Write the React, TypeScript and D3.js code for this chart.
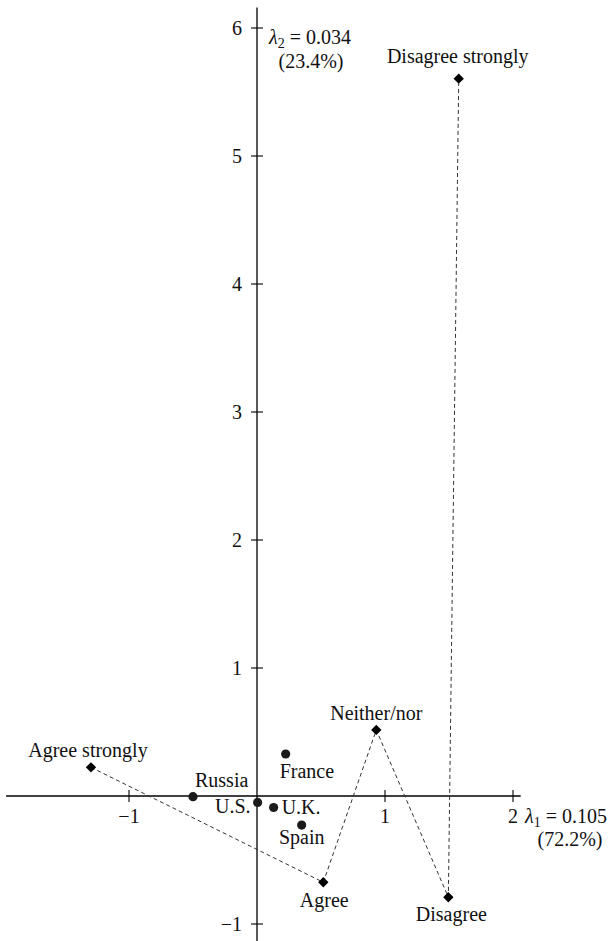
import * as d3 from "d3";

type Point = { label: string; x: number; y: number };
type Placement = { dx: number; dy: number; anchor: "start" | "middle" | "end" };

const countries: Point[] = [
  { label: "Russia", x: -0.5, y: -0.005 },
  { label: "U.S.", x: 0.005, y: -0.05 },
  { label: "U.K.", x: 0.13, y: -0.09 },
  { label: "France", x: 0.224, y: 0.328 },
  { label: "Spain", x: 0.349, y: -0.227 }
];

// response categories, in the order the dashed line joins them
const categories: Point[] = [
  { label: "Agree strongly", x: -1.297, y: 0.224 },
  { label: "Agree", x: 0.518, y: -0.674 },
  { label: "Neither/nor", x: 0.932, y: 0.516 },
  { label: "Disagree", x: 1.495, y: -0.791 },
  { label: "Disagree strongly", x: 1.576, y: 5.604 }
];

const xTicks = [-1, 1, 2];
const yTicks = [-1, 1, 2, 3, 4, 5, 6];
const xAxisExtent = [-1.96, 2.06];
const yAxisExtent = [-1.14, 6.16];
const lambda1 = { value: "0.105", share: "(72.2%)" };
const lambda2 = { value: "0.034", share: "(23.4%)" };

const placements: Record<string, Placement> = {
  Russia: { dx: 2, dy: -10, anchor: "start" },
  "U.S.": { dx: -7, dy: 11, anchor: "end" },
  "U.K.": { dx: 8, dy: 6, anchor: "start" },
  France: { dx: -6, dy: 24, anchor: "start" },
  Spain: { dx: 0, dy: 19, anchor: "middle" },
  "Agree strongly": { dx: -3, dy: -10, anchor: "middle" },
  Agree: { dx: 1, dy: 25, anchor: "middle" },
  "Neither/nor": { dx: 0, dy: -10, anchor: "middle" },
  Disagree: { dx: 3, dy: 24, anchor: "middle" },
  "Disagree strongly": { dx: -1, dy: -16, anchor: "middle" }
};

const font = "Liberation Serif, DejaVu Serif, Noto Serif, Times New Roman, Times, serif";

export default function App() {
  const width = 616;
  const height = 941;
  const x = d3.scaleLinear([-2, 2], [1, 513]);
  const y = d3.scaleLinear([-1, 6], [924, 28]);
  const x0 = x(0);
  const y0 = y(0);
  const line = d3
    .line<Point>()
    .x((d) => x(d.x))
    .y((d) => y(d.y));
  const diamond = d3.symbol(d3.symbolDiamond2, 68)();
  const minus = (t: number) => (t < 0 ? `\u2212${Math.abs(t)}` : `${t}`);

  return (
    <svg
      width={width}
      height={height}
      viewBox={`0 0 ${width} ${height}`}
      fontFamily={font}
      style={{ position: "absolute", left: 0, top: 0, background: "#fff", fontSize: 20 }}
    >
      {/* axes */}
      <line x1={x(xAxisExtent[0])} x2={x(xAxisExtent[1])} y1={y0} y2={y0} stroke="#000" strokeWidth={1.3} />
      <line x1={x0} x2={x0} y1={y(yAxisExtent[1])} y2={y(yAxisExtent[0])} stroke="#000" strokeWidth={1.3} />
      {xTicks.map((t) => (
        <g key={`x${t}`}>
          <line x1={x(t)} x2={x(t)} y1={y0 - 6} y2={y0 + 6} stroke="#000" strokeWidth={1.1} />
          <text x={x(t)} y={y0 + 27} textAnchor="middle" fill="#111">
            {minus(t)}
          </text>
        </g>
      ))}
      {yTicks.map((t) => (
        <g key={`y${t}`}>
          <line x1={x0 - 6} x2={x0 + 6} y1={y(t)} y2={y(t)} stroke="#000" strokeWidth={1.1} />
          <text x={x0 - 15} y={y(t) + 7} textAnchor="end" fill="#111">
            {minus(t)}
          </text>
        </g>
      ))}

      {/* axis inertia labels */}
      <text x={x0 + 53} y={44} textAnchor="middle" fill="#111">
        <tspan fontStyle="italic">λ</tspan>
        <tspan fontSize={14} dy={4}>2</tspan>
        <tspan dy={-4}>{` = ${lambda2.value}`}</tspan>
      </text>
      <text x={x0 + 54} y={68} textAnchor="middle" fill="#111">
        {lambda2.share}
      </text>
      <text x={x(2) + 12} y={y0 + 27} textAnchor="start" fill="#111">
        <tspan fontStyle="italic">λ</tspan>
        <tspan fontSize={14} dy={4}>1</tspan>
        <tspan dy={-4}>{` = ${lambda1.value}`}</tspan>
      </text>
      <text x={x(2) + 57} y={y0 + 50} textAnchor="middle" fill="#111">
        {lambda1.share}
      </text>

      {/* category trajectory */}
      <path d={line(categories) ?? undefined} fill="none" stroke="#333" strokeWidth={1} strokeDasharray="4 3" />
      {categories.map((c) => {
        const p = placements[c.label];
        return (
          <g key={c.label}>
            <path d={diamond ?? undefined} transform={`translate(${x(c.x)},${y(c.y)})`} fill="#000" />
            <text x={x(c.x) + p.dx} y={y(c.y) + p.dy} textAnchor={p.anchor} fill="#111">
              {c.label}
            </text>
          </g>
        );
      })}

      {/* countries */}
      {countries.map((c) => {
        const p = placements[c.label];
        return (
          <g key={c.label}>
            <circle cx={x(c.x)} cy={y(c.y)} r={4.6} fill="#1a1a1a" />
            <text x={x(c.x) + p.dx} y={y(c.y) + p.dy} textAnchor={p.anchor} fill="#111">
              {c.label}
            </text>
          </g>
        );
      })}
    </svg>
  );
}
